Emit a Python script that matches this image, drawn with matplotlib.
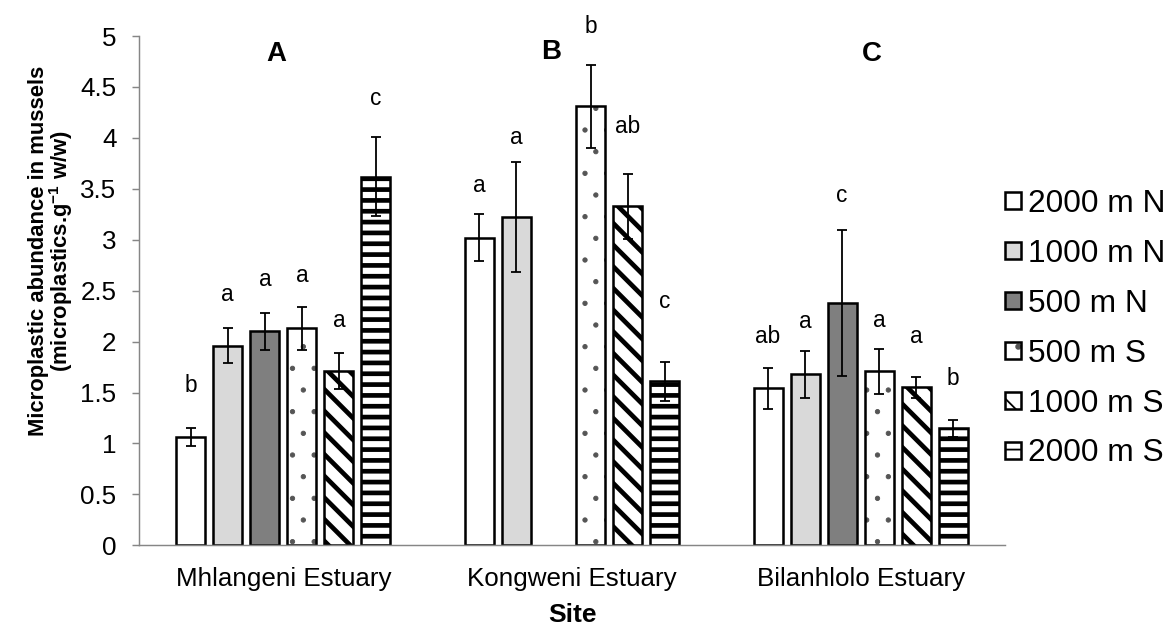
import numpy as np
import matplotlib
matplotlib.use('Agg')
import matplotlib.pyplot as plt
from matplotlib.legend_handler import HandlerTuple

plt.rcParams['font.family'] = ['Liberation Sans', 'DejaVu Sans']
plt.rcParams['mathtext.fontset'] = 'custom'
plt.rcParams['mathtext.rm'] = 'Liberation Sans'
plt.rcParams['mathtext.bf'] = 'Liberation Sans:bold'

# sites and panel letters
sites = ['Mhlangeni Estuary', 'Kongweni Estuary', 'Bilanhlolo Estuary']
panels = ['A', 'B', 'C']
panel_x = [-0.024, 0.926, 2.04]
panel_y = [4.82, 4.84, 4.82]

distances = ['2000 m N', '1000 m N', '500 m N', '500 m S', '1000 m S', '2000 m S']

# mean microplastic abundance per distance (Mhlangeni, Kongweni, Bilanhlolo)
mean_2000N = [1.06, 3.02, 1.54]
mean_1000N = [1.96, 3.22, 1.68]
mean_500N = [2.10, np.nan, 2.38]
mean_500S = [2.13, 4.31, 1.71]
mean_1000S = [1.71, 3.33, 1.55]
mean_2000S = [3.62, 1.61, 1.15]

# standard errors
err_2000N = [0.09, 0.23, 0.20]
err_1000N = [0.17, 0.54, 0.23]
err_500N = [0.18, np.nan, 0.72]
err_500S = [0.21, 0.41, 0.22]
err_1000S = [0.18, 0.32, 0.10]
err_2000S = [0.39, 0.19, 0.085]

# significance letters and their heights
sig_2000N = ['b', 'a', 'ab']
sig_1000N = ['a', 'a', 'a']
sig_500N = ['a', '', 'c']
sig_500S = ['a', 'b', 'a']
sig_1000S = ['a', 'ab', 'a']
sig_2000S = ['c', 'c', 'b']
sigy_2000N = [1.565, 3.53, 2.05]
sigy_1000N = [2.46, 4.00, 2.20]
sigy_500N = [2.61, np.nan, 3.43]
sigy_500S = [2.65, 5.09, 2.21]
sigy_1000S = [2.21, 4.11, 2.05]
sigy_2000S = [4.39, 2.39, 1.64]

means = [mean_2000N, mean_1000N, mean_500N, mean_500S, mean_1000S, mean_2000S]
errs = [err_2000N, err_1000N, err_500N, err_500S, err_1000S, err_2000S]
sigs = [sig_2000N, sig_1000N, sig_500N, sig_500S, sig_1000S, sig_2000S]
sigys = [sigy_2000N, sigy_1000N, sigy_500N, sigy_500S, sigy_1000S, sigy_2000S]

# fill, hatch, hatch colour, hatch line width
styles = [('white', None, 'black', 1.0),
          ('#d9d9d9', None, 'black', 1.0),
          ('#7f7f7f', None, 'black', 1.0),
          ('white', '.', '#555555', 0.5),
          ('white', '\\\\', 'black', 2.6),
          ('white', '--', 'black', 2.6)]

dpi = 130
fig = plt.figure(figsize=(1169 / dpi, 626 / dpi), dpi=dpi)
ax = fig.add_axes([139 / 1169, 1 - 545.3 / 626, 866 / 1169, 509.3 / 626])

x = np.arange(len(sites))
step = 0.1283
width = 0.1
handles = []
for i in range(len(distances)):
    xs = x + (i - 2.5) * step
    face, hatch, hcol, hlw = styles[i]
    with plt.rc_context({'hatch.linewidth': hlw}):
        b1 = ax.bar(xs, means[i], width, color=face, hatch=hatch,
                    edgecolor=hcol, linewidth=0, zorder=2)
    b2 = ax.bar(xs, means[i], width, facecolor='none', edgecolor='black',
                linewidth=1.4, zorder=2.5)
    handles.append((b1, b2))
    ax.errorbar(xs, means[i], yerr=errs[i], fmt='none', ecolor='black',
                elinewidth=1.0, capsize=3.0, capthick=1.0, zorder=3)
    for j in range(len(sites)):
        if sigs[i][j]:
            ax.text(xs[j], sigys[i][j], sigs[i][j], ha='center', va='center',
                    fontsize=12.5, clip_on=False)

for j in range(len(sites)):
    ax.text(panel_x[j], panel_y[j], panels[j], ha='center', va='center',
            fontsize=15.3, fontweight='bold')

ax.set_xlim(-0.5, 2.5)
ax.set_ylim(0, 5)
ax.set_xticks(x)
ax.set_xticklabels(sites)
yt = np.arange(0, 5.01, 0.5)
ax.set_yticks(yt)
ax.set_yticklabels(['%g' % v for v in yt])

for s in ['top', 'right']:
    ax.spines[s].set_visible(False)
for s in ['left', 'bottom']:
    ax.spines[s].set_color('#868686')
    ax.spines[s].set_linewidth(0.8)

ax.tick_params(axis='y', length=4, width=0.8, color='#868686', pad=8.5,
               labelsize=14.4)
ax.tick_params(axis='x', length=0, pad=12, labelsize=14.4)

ax.set_ylabel('Microplastic abundance in mussels\n'
              r'(microplastics.g$^{\mathbf{-1}}$ w/w)',
              fontsize=12.2, fontweight='bold', linespacing=0.9)
ax.yaxis.label.set_va('center')
ax.yaxis.set_label_coords(-0.101, 0.578)
ax.set_xlabel('Site', fontsize=14.6, fontweight='bold')
ax.xaxis.set_label_coords(0.5, -0.137)
ax.xaxis.label.set_va('center')

ax.legend(handles, distances, handler_map={tuple: HandlerTuple(ndivide=1)},
          loc='center left', bbox_to_anchor=(1005 / 1169, 0.475),
          bbox_transform=fig.transFigure, frameon=False, fontsize=17.5,
          handlelength=0.52, handleheight=0.46, handletextpad=0.2,
          labelspacing=0.63, borderpad=0, borderaxespad=0)

plt.savefig('out.png', dpi=dpi)
